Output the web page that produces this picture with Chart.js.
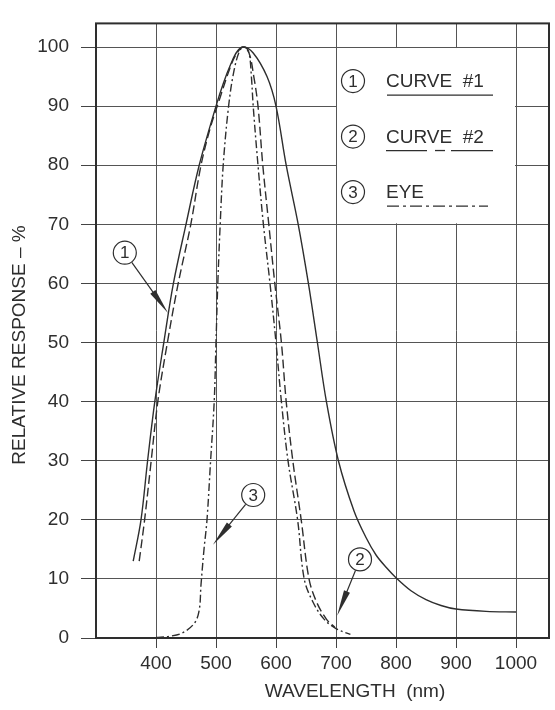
<!DOCTYPE html>
<html>
<head>
<meta charset="utf-8">
<script src="https://cdn.jsdelivr.net/npm/chart.js@4.4.1/dist/chart.umd.min.js"></script>
<style>
  html, body { margin: 0; padding: 0; background: #fff; }
  canvas { display: block; }
</style>
</head>
<body>
<canvas id="reponseChart" width="555" height="710"></canvas>
<script>
// Graduations des axes
const xTicks = [400, 500, 600, 700, 800, 900, 1000];
const yTicks = [0, 10, 20, 30, 40, 50, 60, 70, 80, 90, 100];

// Courbe #1 (trait plein) : longueur d'onde (nm) et réponse (%)
const curve1Nm  = [362, 375, 386, 398, 413, 429, 450, 472, 500, 512, 525, 535, 545, 562, 585, 600, 617, 637, 654, 669, 684, 704, 730, 750, 767, 785, 800, 825, 850, 875, 900, 950, 1000];
const curve1Pct = [13, 20, 30, 40, 50, 60, 70, 80, 90, 93.8, 97.2, 99.2, 100, 99, 95, 90, 80, 70, 60, 50, 40, 30, 21.5, 17, 14, 11.8, 10.2, 8, 6.5, 5.5, 4.9, 4.5, 4.4];

// Courbe #2 (tirets)
const curve2Nm  = [372, 381, 392, 403, 419, 437, 458, 475, 491, 507, 520, 532, 545, 555, 563, 570, 578, 588, 598, 609, 617, 628, 642, 655, 668, 684, 698];
const curve2Pct = [13, 20, 30, 40, 50, 60, 70, 80, 86.5, 91.5, 95.5, 98.5, 100, 99, 95, 90, 80, 70, 60, 50, 40, 30, 20, 10, 6, 3.2, 1.8];

// Oeil (trait mixte)
const eyeNm  = [400, 423, 443, 464, 472, 475, 480, 485, 491, 497, 500, 503, 507, 512, 521, 530, 540, 548, 555, 559, 562, 570, 579, 590, 600, 609, 620, 636, 647, 662, 680, 700, 724];
const eyePct = [0.1, 0.3, 0.8, 2.5, 4.7, 9, 15, 20, 30, 40, 50, 60, 70, 80, 90, 96, 99.5, 100, 99, 95, 90, 80, 70, 60, 50, 40, 30, 20, 10, 6, 3.2, 1.6, 0.6];

// Légende et repères numérotés
const legendLabels = ['CURVE  #1', 'CURVE  #2', 'EYE'];
const callouts = [
  { n: '1', c: [348, 65.2], tip: [420, 55] },
  { n: '3', c: [562, 24.2], tip: [495, 15.8] },
  { n: '2', c: [740, 13.3], tip: [702, 3.8] }
];

const ink = '#2e2e2e';
const font = "'Liberation Sans', Arial, Helvetica, sans-serif";
Chart.defaults.font.family = font;

function points(xs, ys) {
  return xs.map((x, i) => ({ x: x, y: ys[i] }));
}

function bulle(ctx, x, y, txt) {
  ctx.beginPath();
  ctx.arc(x, y, 11.5, 0, Math.PI * 2);
  ctx.fillStyle = '#fff';
  ctx.fill();
  ctx.lineWidth = 1.2;
  ctx.strokeStyle = ink;
  ctx.stroke();
  ctx.fillStyle = ink;
  ctx.font = '17px ' + font;
  ctx.textAlign = 'center';
  ctx.textBaseline = 'middle';
  ctx.fillText(txt, x, y + 1);
}

function fleche(ctx, cx, cy, tx, ty) {
  const a = Math.atan2(ty - cy, tx - cx);
  const c = Math.cos(a), s = Math.sin(a);
  const x0 = cx + c * 12, y0 = cy + s * 12;
  const len = 26, w = 3.2;
  ctx.lineWidth = 1.2;
  ctx.strokeStyle = ink;
  ctx.beginPath();
  ctx.moveTo(x0, y0);
  ctx.lineTo(tx - c * len * 0.6, ty - s * len * 0.6);
  ctx.stroke();
  ctx.fillStyle = ink;
  ctx.beginPath();
  ctx.moveTo(tx, ty);
  ctx.lineTo(tx - c * len - s * w, ty - s * len + c * w);
  ctx.lineTo(tx - c * len + s * w, ty - s * len - c * w);
  ctx.closePath();
  ctx.fill();
}

const cadre = {
  id: 'cadre',
  beforeDatasetsDraw(chart) {
    const { ctx, scales: { x, y } } = chart;
    const l = x.getPixelForValue(700), r = x.getPixelForValue(1000);
    const t = y.getPixelForValue(100), b = y.getPixelForValue(70);
    ctx.save();
    ctx.fillStyle = '#fff';
    ctx.fillRect(l + 1, t + 1, r - l - 2, b - t - 2);
    ctx.restore();
  },
  afterDraw(chart) {
    const { ctx, chartArea: ca, scales: { x, y } } = chart;
    ctx.save();
    // cadre du graphique
    ctx.strokeStyle = ink;
    ctx.lineWidth = 2;
    ctx.strokeRect(ca.left, ca.top, ca.right - ca.left, ca.bottom - ca.top);

    // légende
    const bx = x.getPixelForValue(700), by = y.getPixelForValue(100);
    const dashes = [[], null, [12, 4, 3, 4]];
    legendLabels.forEach((lab, i) => {
      const ry = by + 34 + i * 55.5;
      bulle(ctx, bx + 17, ry, String(i + 1));
      ctx.font = '19px ' + font;
      ctx.textAlign = 'left';
      ctx.textBaseline = 'middle';
      ctx.fillStyle = ink;
      ctx.fillText(lab, bx + 50, ry + 1);
      const uy = ry + 14;
      ctx.lineWidth = 1.3;
      ctx.strokeStyle = ink;
      if (i === 1) {
        [[50, 91], [99, 109], [115, 157]].forEach(seg => {
          ctx.beginPath(); ctx.moveTo(bx + seg[0], uy); ctx.lineTo(bx + seg[1], uy); ctx.stroke();
        });
      } else {
        ctx.setLineDash(dashes[i]);
        ctx.beginPath(); ctx.moveTo(bx + 51, uy); ctx.lineTo(bx + (i === 0 ? 157 : 152), uy); ctx.stroke();
        ctx.setLineDash([]);
      }
    });

    // repères numérotés
    callouts.forEach(co => {
      const cx = x.getPixelForValue(co.c[0]), cy = y.getPixelForValue(co.c[1]);
      const tx = x.getPixelForValue(co.tip[0]), ty = y.getPixelForValue(co.tip[1]);
      fleche(ctx, cx, cy, tx, ty);
      bulle(ctx, cx, cy, co.n);
    });

    // titres des axes
    ctx.fillStyle = ink;
    ctx.font = '19px ' + font;
    ctx.textAlign = 'center';
    ctx.textBaseline = 'middle';
    ctx.fillText('WAVELENGTH  (nm)', 355, 692);
    ctx.translate(20, 345);
    ctx.rotate(-Math.PI / 2);
    ctx.fillText('RELATIVE RESPONSE – %', 0, 0);
    ctx.restore();
  }
};

const config = {
  type: 'line',
  data: {
    datasets: [
      { label: 'CURVE #1', data: points(curve1Nm, curve1Pct) },
      { label: 'CURVE #2', data: points(curve2Nm, curve2Pct), borderDash: [9, 4] },
      { label: 'EYE', data: points(eyeNm, eyePct), borderDash: [8, 3, 2, 3] }
    ].map(d => Object.assign({
      borderColor: ink,
      borderWidth: 1.4,
      pointRadius: 0,
      fill: false,
      tension: 0.35
    }, d))
  },
  options: {
    responsive: false,
    animation: false,
    devicePixelRatio: 1,
    layout: { padding: { left: 0, right: 6, top: 13, bottom: 0 } },
    plugins: { legend: { display: false }, tooltip: { enabled: false } },
    scales: {
      x: {
        type: 'linear',
        min: 300,
        max: 1055,
        afterBuildTicks: s => { s.ticks = xTicks.map(v => ({ value: v })); },
        afterFit: s => { s.height = 72; },
        grid: { color: '#555', lineWidth: 1, tickLength: 10, tickColor: '#444' },
        border: { display: false },
        ticks: { color: ink, font: { size: 19 }, padding: 4, maxRotation: 0, autoSkip: false, callback: v => String(v) }
      },
      y: {
        type: 'linear',
        min: 0,
        max: 104,
        afterBuildTicks: s => { s.ticks = yTicks.map(v => ({ value: v })); },
        afterFit: s => { s.width = 96; },
        grid: { color: '#555', lineWidth: 1, tickLength: 15, tickColor: '#444' },
        border: { display: false },
        ticks: { color: ink, font: { size: 19 }, padding: 12, autoSkip: false }
      }
    }
  },
  plugins: [cadre]
};

const reponseChart = new Chart(document.getElementById('reponseChart'), config);
</script>
</body>
</html>
